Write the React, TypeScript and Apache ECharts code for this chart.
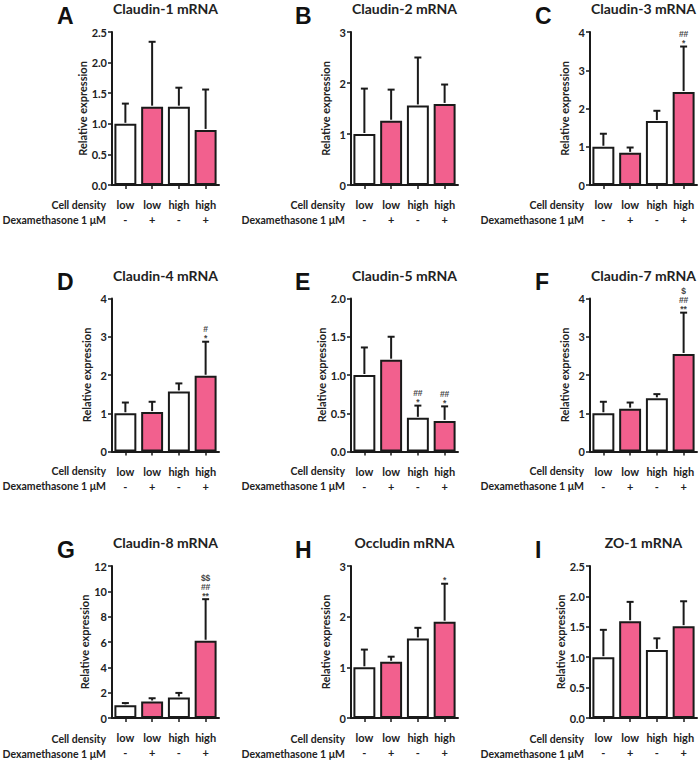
import React, { useEffect, useRef } from "react";
import * as echarts from "echarts";

// ---- data ----
const cellDensity = ["low", "low", "high", "high"];
const dexamethasone = ["-", "+", "-", "+"];
const rowLabelDensity = "Cell density";
const rowLabelDex = "Dexamethasone 1 μM";
const yAxisName = "Relative expression";

const panelLetters = ["A", "B", "C", "D", "E", "F", "G", "H", "I"];
const panelTitles = [
  "Claudin-1 mRNA",
  "Claudin-2 mRNA",
  "Claudin-3 mRNA",
  "Claudin-4 mRNA",
  "Claudin-5 mRNA",
  "Claudin-7 mRNA",
  "Claudin-8 mRNA",
  "Occludin mRNA",
  "ZO-1 mRNA",
];

// mean values
const claudin1 = [1.0, 1.28, 1.28, 0.9];
const claudin2 = [1.0, 1.26, 1.56, 1.59];
const claudin3 = [1.0, 0.84, 1.67, 2.43];
const claudin4 = [1.0, 1.03, 1.57, 1.98];
const claudin5 = [1.0, 1.2, 0.44, 0.4];
const claudin7 = [1.0, 1.12, 1.39, 2.55];
const claudin8 = [1.0, 1.3, 1.62, 6.1];
const occludin = [1.0, 1.11, 1.57, 1.9];
const zo1 = [1.0, 1.59, 1.12, 1.51];

// upper end of error bars
const claudin1Err = [1.33, 2.34, 1.59, 1.56];
const claudin2Err = [1.89, 1.87, 2.5, 1.97];
const claudin3Err = [1.34, 0.98, 1.94, 3.62];
const claudin4Err = [1.28, 1.3, 1.78, 2.87];
const claudin5Err = [1.36, 1.5, 0.6, 0.59];
const claudin7Err = [1.3, 1.28, 1.5, 3.63];
const claudin8Err = [1.18, 1.56, 1.98, 9.38];
const occludinErr = [1.35, 1.21, 1.78, 2.65];
const zo1Err = [1.45, 1.91, 1.31, 1.92];

// significance marks
const claudin1Sig = ["", "", "", ""];
const claudin2Sig = ["", "", "", ""];
const claudin3Sig = ["", "", "", "##\n*"];
const claudin4Sig = ["", "", "", "#\n*"];
const claudin5Sig = ["", "", "##\n*", "##\n*"];
const claudin7Sig = ["", "", "", "$\n##\n**"];
const claudin8Sig = ["", "", "", "$$\n##\n**"];
const occludinSig = ["", "", "", "*"];
const zo1Sig = ["", "", "", ""];

// y axis ticks
const yMax = [2.5, 3, 4, 4, 2, 4, 12, 3, 2.5];
const yStep = [0.5, 1, 1, 1, 0.5, 1, 2, 1, 0.5];
const yDecimals = [1, 0, 0, 0, 1, 0, 0, 0, 1];

const means = [claudin1, claudin2, claudin3, claudin4, claudin5, claudin7, claudin8, occludin, zo1];
const errs = [claudin1Err, claudin2Err, claudin3Err, claudin4Err, claudin5Err, claudin7Err, claudin8Err, occludinErr, zo1Err];
const sigs = [claudin1Sig, claudin2Sig, claudin3Sig, claudin4Sig, claudin5Sig, claudin7Sig, claudin8Sig, occludinSig, zo1Sig];

// ---- styles ----
const PINK = "#F2608E";
const WHITE = "#ffffff";
const barColors = [WHITE, PINK, WHITE, PINK];
const INK = "#1a1a1a";
const FONT = "Lato";

const colLefts = [112, 351, 590];
const rowTops = [32, 298.5, 566];
const GW = 107;
const GH = 153;

export default function App() {
  const ref = useRef<HTMLDivElement>(null);

  useEffect(() => {
    document.body.style.margin = "0";
    if (!ref.current) return;
    const chart = echarts.init(ref.current, undefined, { renderer: "svg" });

    const grids: any[] = [];
    const xAxes: any[] = [];
    const yAxes: any[] = [];
    const series: any[] = [];
    const graphics: any[] = [];

    for (let p = 0; p < 9; p++) {
      const col = p % 3;
      const row = Math.floor(p / 3);
      const left = colLefts[col];
      const top = rowTops[row];
      grids.push({ left, top, width: GW, height: GH, containLabel: false });

      xAxes.push({
        type: "category",
        gridIndex: p,
        data: cellDensity,
        axisLine: { show: true, lineStyle: { color: INK, width: 2 } },
        axisTick: { show: true, alignWithLabel: true, length: 4, lineStyle: { color: INK, width: 1.5 } },
        axisLabel: {
          interval: 0,
          margin: 12,
          lineHeight: 15,
          fontSize: 11,
          fontWeight: "bold",
          fontFamily: FONT,
          color: "#222",
          formatter: (v: string, i: number) => `${v}\n${dexamethasone[i]}`,
        },
        splitLine: { show: false },
      });

      const dec = yDecimals[p];
      yAxes.push({
        type: "value",
        gridIndex: p,
        min: 0,
        max: yMax[p],
        interval: yStep[p],
        axisLine: { show: true, lineStyle: { color: INK, width: 2 } },
        axisTick: { show: true, length: 4, lineStyle: { color: INK, width: 1.5 } },
        splitLine: { show: false },
        axisLabel: {
          margin: 5,
          fontSize: 11,
          fontWeight: "bold",
          fontFamily: FONT,
          color: "#222",
          formatter: (v: number) => v.toFixed(dec),
        },
        name: yAxisName,
        nameLocation: "middle",
        nameGap: 20,
        nameTextStyle: { fontSize: 11, fontWeight: "bold", fontFamily: FONT, color: "#222" },
      });

      series.push({
        type: "bar",
        xAxisIndex: p,
        yAxisIndex: p,
        barCategoryGap: "18%",
        data: means[p].map((v, i) => ({
          value: v,
          itemStyle: { color: barColors[i], borderColor: INK, borderWidth: 2 },
        })),
        z: 2,
      });

      const sig = sigs[p];
      series.push({
        type: "custom",
        xAxisIndex: p,
        yAxisIndex: p,
        z: 3,
        data: means[p].map((v, i) => [i, v, errs[p][i]]),
        renderItem: (params: any, api: any) => {
          const i = api.value(0);
          const base = api.coord([i, api.value(1)]);
          const tp = api.coord([i, api.value(2)]);
          const half = 3.5;
          const children: any[] = [
            {
              type: "line",
              shape: { x1: tp[0], y1: base[1] - 1, x2: tp[0], y2: tp[1] },
              style: { stroke: INK, lineWidth: 2 },
            },
            {
              type: "line",
              shape: { x1: tp[0] - half, y1: tp[1], x2: tp[0] + half, y2: tp[1] },
              style: { stroke: INK, lineWidth: 2 },
            },
          ];
          const t = sig[params.dataIndex];
          if (t) {
            children.push({
              type: "text",
              x: tp[0],
              y: tp[1] + 1,
              style: {
                text: t,
                align: "center",
                verticalAlign: "bottom",
                fontSize: 8.5,
                lineHeight: 9,
                fontFamily: "Liberation Sans",
                fontWeight: "bold",
                fill: "#444",
              },
            });
          }
          return { type: "group", children };
        },
      });

      // panel letter
      graphics.push({
        type: "text",
        left: [57, 295, 535][col],
        top: top - 19 - 9,
        style: {
          text: panelLetters[p],
          fontSize: 23,
          fontWeight: "bold",
          fontFamily: "Liberation Sans",
          fill: "#111",
        },
      });
      // title
      graphics.push({
        type: "text",
        x: left + GW / 2,
        y: top - 23.5,
        style: {
          text: panelTitles[p],
          align: "center",
          verticalAlign: "middle",
          fontSize: 14,
          fontWeight: "bold",
          fontFamily: FONT,
          fill: "#222",
        },
      });
      // row labels
      graphics.push({
        type: "text",
        x: left - 6,
        y: top + GH + 19.5,
        style: {
          text: rowLabelDensity,
          align: "right",
          verticalAlign: "middle",
          fontSize: 10.5,
          fontWeight: "bold",
          fontFamily: FONT,
          fill: "#222",
        },
      });
      graphics.push({
        type: "text",
        x: left - 6,
        y: top + GH + 34.5,
        style: {
          text: rowLabelDex,
          align: "right",
          verticalAlign: "middle",
          fontSize: 10.5,
          fontWeight: "bold",
          fontFamily: FONT,
          fill: "#222",
        },
      });
    }

    chart.setOption({
      animation: false,
      backgroundColor: "#ffffff",
      grid: grids,
      xAxis: xAxes,
      yAxis: yAxes,
      series,
      graphic: graphics,
    });

    return () => chart.dispose();
  }, []);

  return <div ref={ref} style={{ width: 700, height: 760 }} />;
}
